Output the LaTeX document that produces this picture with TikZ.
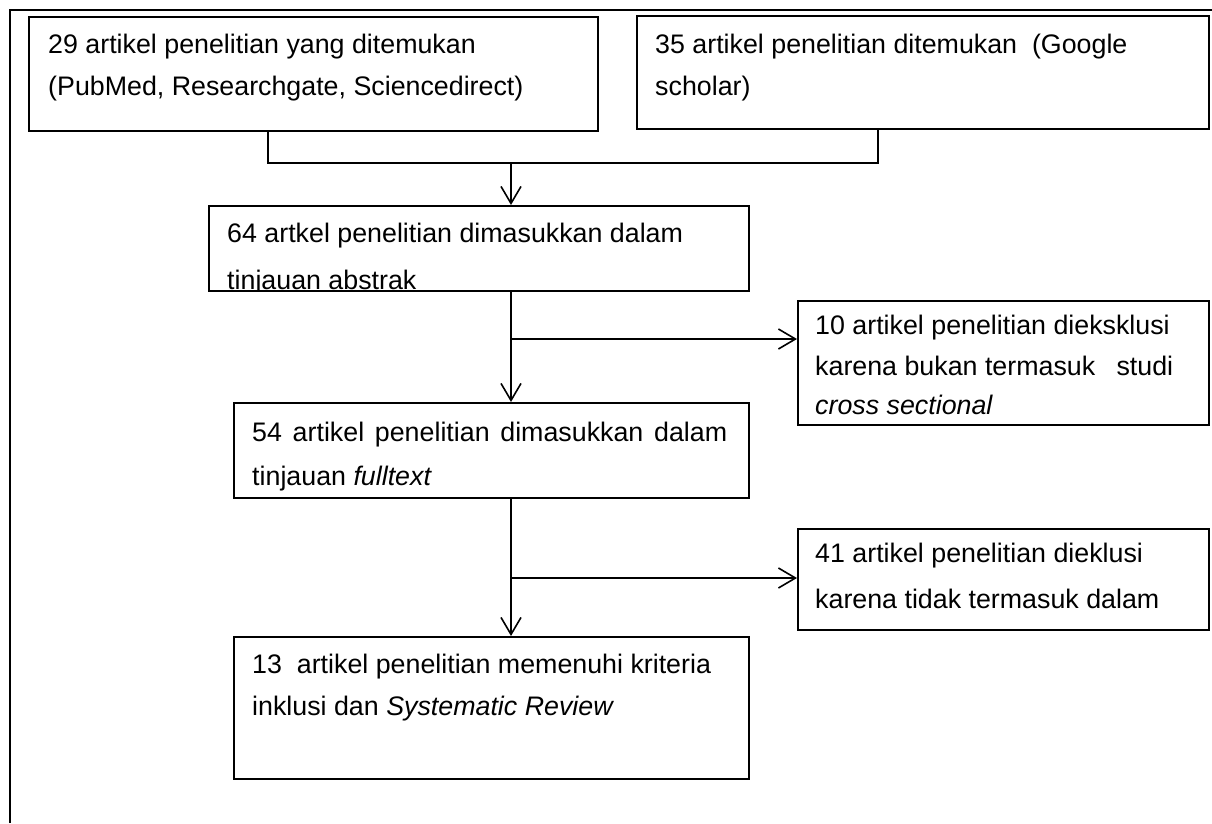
\documentclass[tikz,border=0pt]{standalone}
\usepackage{fontspec}
\setmainfont{Liberation Sans}
\usetikzlibrary{arrows.meta}
\begin{document}
\begin{tikzpicture}[x=1pt,y=-1pt,
  box/.style={draw, line width=1.6pt, rectangle, anchor=north west, inner sep=0pt},
  txt/.style={anchor=base west, inner sep=0pt, font=\fontsize{26.8}{30}\selectfont},
  wire/.style={line width=1.6pt},
  arr/.style={line width=1.6pt, -{Straight Barb[length=17pt,width=20pt,line width=1.6pt]}}]
\useasboundingbox (0,0) rectangle (1212,823);
% outer frame (top and left only visible)
\coordinate (f0) at (10,823);
\coordinate (f1) at (10,10);
\coordinate (f2) at (1212,10);
\draw[line width=1.6pt] (f0) -- (f1) -- (f2);
% boxes
\node[box, minimum width=569pt, minimum height=114pt] (A) at (28,16) {};
\node[box, minimum width=572pt, minimum height=113pt] (B) at (636,15) {};
\node[box, minimum width=540pt, minimum height=85pt] (C) at (208,205) {};
\node[box, minimum width=411pt, minimum height=124pt] (E) at (797,300) {};
\node[box, minimum width=515pt, minimum height=95pt] (D) at (233,402) {};
\node[box, minimum width=411pt, minimum height=101pt] (F) at (797,528) {};
\node[box, minimum width=515pt, minimum height=142pt] (G) at (233,636) {};
% texts
\node[txt] (a1) at (48,53) {29 artikel penelitian yang ditemukan};
\node[txt] (a2) at (48,95) {(PubMed, Researchgate, Sciencedirect)};
\node[txt] (b1) at (655,53) {35 artikel penelitian ditemukan\ \ (Google};
\node[txt] (b2) at (655,95) {scholar)};
\begin{scope}
  \clip (C.north west) rectangle (C.south east);
  \node[txt] (c1) at (227,242) {64 artkel penelitian dimasukkan dalam};
  \node[txt] (c2) at (227,289) {tinjauan abstrak};
\end{scope}
\node[txt] (e1) at (815,334) {10 artikel penelitian dieksklusi};
\node[txt] (e2) at (815,375) {\makebox[358pt][s]{karena bukan termasuk\hfill studi}};
\node[txt] (e3) at (815,414) {\itshape cross sectional};
\node[txt] (d1) at (252,441) {\makebox[475pt][s]{54 artikel penelitian dimasukkan dalam}};
\node[txt] (d2) at (252,485) {tinjauan \textit{fulltext}};
\node[txt] (f1t) at (815,562) {41 artikel penelitian dieklusi};
\node[txt] (f2t) at (815,608) {karena tidak termasuk dalam};
\node[txt] (g1) at (252,673) {13\ \ artikel penelitian memenuhi kriteria};
\node[txt] (g2) at (252,715) {inklusi dan \textit{Systematic Review}};
% connectors
\coordinate (j1) at (268,163);
\coordinate (j2) at (878,163);
\coordinate (j3) at (511,163);
\coordinate (b1) at (511,339);
\coordinate (b2) at (511,578);
\draw[wire] (A.south -| j1) -- (j1) -- (j2) -- (B.south -| j2);
\draw[arr] (j3) -- (C.north -| j3);
\draw[arr] (C.south -| j3) -- (D.north -| j3);
\draw[arr] (b1) -- (E.west |- b1);
\draw[arr] (D.south -| j3) -- (G.north -| j3);
\draw[arr] (b2) -- (F.west |- b2);
\end{tikzpicture}
\end{document}
